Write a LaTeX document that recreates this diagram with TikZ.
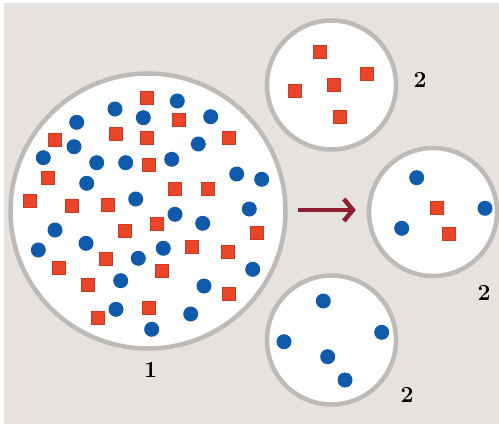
\documentclass[tikz,border=0pt]{standalone}
\usetikzlibrary{arrows.meta}
\definecolor{bg}{HTML}{E6E2E0}
\definecolor{ringc}{HTML}{BEBAB7}
\definecolor{redsq}{HTML}{EA4429}
\definecolor{redsqd}{HTML}{CC3A22}
\definecolor{bluedot}{HTML}{0F5AAA}
\definecolor{arrowc}{HTML}{8E1F33}
\tikzset{
  ring/.style={circle, draw=ringc, line width=4.5pt, fill=white, inner sep=0pt},
  sq/.style={rectangle, fill=redsq, draw=redsqd, line width=0.5pt, minimum size=13pt, inner sep=0pt},
  dot/.style={circle, fill=bluedot, minimum size=15pt, inner sep=0pt},
  lab/.style={font=\fontsize{23}{26}\selectfont\bfseries, inner sep=0pt},
  flow/.style={draw=arrowc, line width=4.5pt, -{Straight Barb[length=9pt, width=22pt]}}
}
\begin{document}
\begin{tikzpicture}[x=1pt, y=-1pt]
\useasboundingbox (0,0) rectangle (499,424);
\fill[white] (0,0) rectangle (499,424);
\fill[bg] (4,3) rectangle (499,424);
% vessels
\node[ring, minimum size=275pt] (big) at (148,211) {};
\node[ring, minimum size=129pt] (topc) at (331.5,85) {};
\node[ring, minimum size=128pt] (midc) at (433,212) {};
\node[ring, minimum size=129pt] (botc) at (331.5,340) {};
% red squares
\foreach \x/\y [count=\i] in {146.7/97.3, 178.3/120, 55/140, 115.7/133.3, 146.7/137.7, 228.3/137.7,
  148.3/164.3, 47.7/177.7, 175/189, 207.7/189, 30/200.7, 71.7/206, 107.7/204.3, 156.7/224,
  124.3/230.7, 256.7/232.3, 191.7/246.7, 227.3/251.7, 106/259, 59/267.3, 162/271, 87.3/284.3,
  228.7/294, 148.3/307.3, 97.3/317.3,
  320/51.7, 366.7/73.3, 333.3/85, 295/90.7, 340/116.7,
  436.7/207.3, 448.3/234}
  \node[sq] (s\i) at (\x,\y) {};
% blue dots
\foreach \x/\y [count=\i] in {115/109, 177.3/101, 76.7/122.3, 143.3/117.7, 210.7/116.7, 74/146.7,
  198.3/144, 43.3/157.7, 96.7/162.7, 125.7/162.7, 171.7/159.3, 236.7/174, 261.7/179.3,
  86.7/183.3, 135.7/199, 249.3/209, 175/214.3, 202.7/223.3, 55/230, 86/243.3, 38.3/250,
  163.3/248.3, 138.3/258.3, 252.7/269.3, 120.7/280.7, 204/286, 116/309.3, 190.7/314, 151.7/329.3,
  416.7/177.7, 485/208.3, 401.7/228.3,
  323.3/301, 381.7/332.3, 284/341.7, 327.7/356.7, 345/380}
  \node[dot] (d\i) at (\x,\y) {};
% arrow
\draw[flow, shorten <=10pt, shorten >=11pt] (big.east |- 0,210) -- (midc.west |- 0,210);
% labels
\node[lab] (l1) at (150.5,370) {1};
\node[lab] (l2) at (420,79.5) {2};
\node[lab] (l3) at (484,293) {2};
\node[lab] (l4) at (407,395) {2};
\end{tikzpicture}
\end{document}
